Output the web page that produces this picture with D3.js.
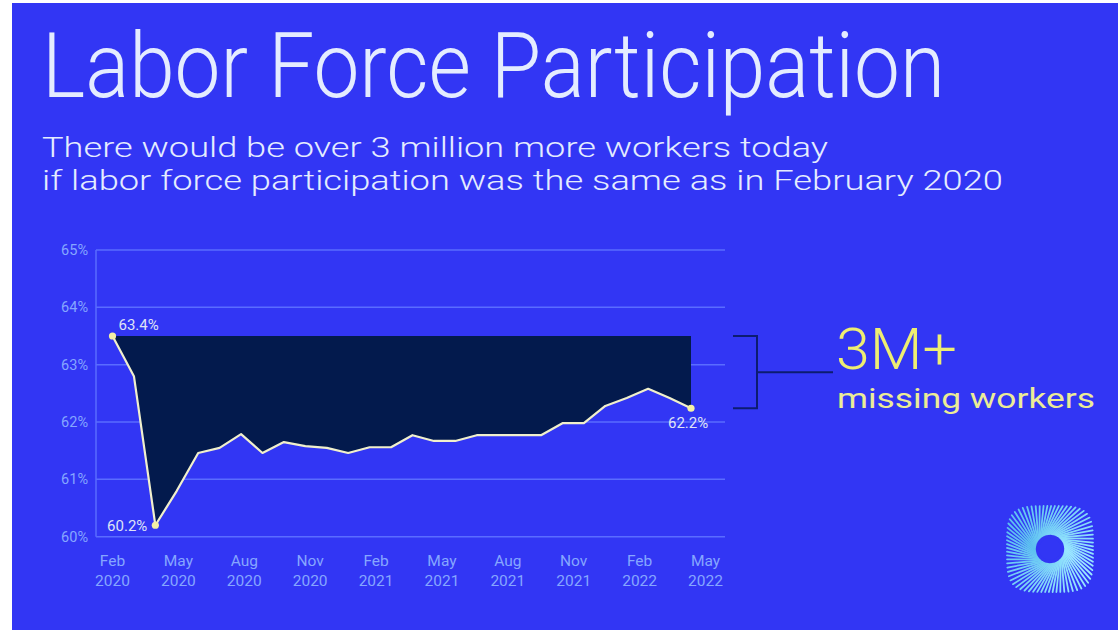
<!DOCTYPE html>
<html>
<head>
<meta charset="utf-8">
<script src="https://cdn.jsdelivr.net/npm/d3@7"></script>
<style>
  html, body { margin: 0; padding: 0; background: #ffffff; }
  svg { display: block; }
  text { font-family: Roboto, "Noto Sans", sans-serif; }
</style>
</head>
<body>
<svg id="chart" width="1118" height="630"></svg>
<script>
// ---------- data ----------
const months = [
  "Feb 2020","Mar 2020","Apr 2020","May 2020","Jun 2020","Jul 2020","Aug 2020","Sep 2020",
  "Oct 2020","Nov 2020","Dec 2020","Jan 2021","Feb 2021","Mar 2021","Apr 2021","May 2021",
  "Jun 2021","Jul 2021","Aug 2021","Sep 2021","Oct 2021","Nov 2021","Dec 2021","Jan 2022",
  "Feb 2022","Mar 2022","Apr 2022","May 2022"
];
const participation = [
  63.5, 62.8, 60.2, 60.8, 61.46, 61.55, 61.79, 61.46,
  61.65, 61.58, 61.55, 61.46, 61.56, 61.56, 61.77, 61.67,
  61.67, 61.77, 61.77, 61.77, 61.77, 61.98, 61.98, 62.28,
  62.42, 62.58, 62.42, 62.24
];
const baselineValue = 63.5;           // February 2020 level
const yTicks = [60, 61, 62, 63, 64, 65];
const xTickMonths = ["Feb","May","Aug","Nov","Feb","May","Aug","Nov","Feb","May"];
const xTickYears  = ["2020","2020","2020","2020","2021","2021","2021","2021","2022","2022"];
const pointLabels = [
  {index: 0,  text: "63.4%"},
  {index: 2,  text: "60.2%"},
  {index: 27, text: "62.2%"}
];
const titleText = "Labor Force Participation";
const subtitleLines = [
  "There would be over 3 million more workers today",
  "if labor force participation was the same as in February 2020"
];
const calloutBig = "3M+";
const calloutSmall = "missing workers";

// ---------- setup ----------
const svg = d3.select("#chart");
const W = 1118, H = 630;
const bg = "#3236f4";

svg.append("rect").attr("width", W).attr("height", H).attr("fill", "#ffffff");
svg.append("rect").attr("x", 12).attr("y", 3).attr("width", W - 12).attr("height", H - 3)
   .attr("fill", bg);

// titles
svg.append("text").attr("x", 42).attr("y", 97)
   .attr("font-size", 91).attr("font-weight", 300).attr("fill", "#e4ecff")
   .attr("textLength", 903).attr("lengthAdjust", "spacingAndGlyphs")
   .text(titleText);
const subLen = [786, 961];
subtitleLines.forEach((s, i) => {
  svg.append("text").attr("x", 42).attr("y", 157 + i * 33)
     .attr("font-size", 28).attr("font-weight", 300).attr("fill", "#e4ecff")
     .attr("textLength", subLen[i]).attr("lengthAdjust", "spacingAndGlyphs")
     .text(s);
});

// scales
const y = d3.scaleLinear().domain([60, 65]).range([536.7, 250]);
const x = d3.scalePoint().domain(months).range([112.5, 691]);
const xLab = d3.scalePoint().domain(d3.range(xTickMonths.length)).range([112.5, 705.5]);
const plotLeft = 96, plotRight = 725;

// grid
const gridColor = "#5a6cff";
svg.append("g").selectAll("line").data(yTicks).join("line")
   .attr("x1", plotLeft).attr("x2", plotRight)
   .attr("y1", d => y(d)).attr("y2", d => y(d))
   .attr("stroke", gridColor).attr("stroke-width", 1.5);
svg.append("line").attr("x1", plotLeft).attr("x2", plotLeft)
   .attr("y1", y(65)).attr("y2", y(60))
   .attr("stroke", gridColor).attr("stroke-width", 1.5);

// y tick labels
svg.append("g").selectAll("text").data(yTicks).join("text")
   .attr("x", 88).attr("y", d => y(d)).attr("dy", "0.35em")
   .attr("text-anchor", "end").attr("font-size", 14.5).attr("fill", "#86a6ff")
   .text(d => d + "%");

// x tick labels
const xl = svg.append("g").selectAll("text").data(xTickMonths).join("text")
   .attr("text-anchor", "middle").attr("font-size", 15.5).attr("fill", "#86a6ff");
xl.append("tspan").attr("x", (d, i) => xLab(i)).attr("y", 566).text(d => d);
xl.append("tspan").attr("x", (d, i) => xLab(i)).attr("y", 586).text((d, i) => xTickYears[i]);

// gap area
const data = months.map((m, i) => ({m, v: participation[i]}));
svg.append("path").datum(data)
   .attr("d", d3.area().x(d => x(d.m)).y0(y(baselineValue)).y1(d => y(d.v)))
   .attr("fill", "#031a4d");

// line
svg.append("path").datum(data)
   .attr("d", d3.line().x(d => x(d.m)).y(d => y(d.v)))
   .attr("fill", "none").attr("stroke", "#f1f0cc").attr("stroke-width", 2.2)
   .attr("stroke-linejoin", "round");

// dots + labels
svg.append("g").selectAll("circle").data(pointLabels).join("circle")
   .attr("cx", d => x(months[d.index])).attr("cy", d => y(participation[d.index]))
   .attr("r", 3.6).attr("fill", "#f4f0a6");
const lblPos = [
  {dx: 6, dy: -11, anchor: "start"},
  {dx: -8, dy: 1, anchor: "end"},
  {dx: -23, dy: 14, anchor: "start"}
];
svg.append("g").selectAll("text").data(pointLabels).join("text")
   .attr("x", (d, i) => x(months[d.index]) + lblPos[i].dx)
   .attr("y", (d, i) => y(participation[d.index]) + lblPos[i].dy)
   .attr("dy", "0.35em").attr("text-anchor", (d, i) => lblPos[i].anchor)
   .attr("font-size", 15).attr("fill", "#dfe3f6")
   .text(d => d.text);

// bracket
const bTop = y(baselineValue), bBot = y(participation[participation.length - 1]);
const bx = 757;
svg.append("path")
   .attr("d", `M${bx - 24},${bTop}H${bx}V${bBot}H${bx - 24}M${bx},${(bTop + bBot) / 2}H${833}`)
   .attr("fill", "none").attr("stroke", "#0c1c70").attr("stroke-width", 2);

// callout
svg.append("text").attr("x", 836).attr("y", 369)
   .attr("font-size", 57).attr("font-weight", 300).attr("fill", "#eeee72")
   .attr("textLength", 121).attr("lengthAdjust", "spacingAndGlyphs")
   .text(calloutBig);
svg.append("text").attr("x", 837).attr("y", 408)
   .attr("font-size", 27.5).attr("font-weight", 400).attr("fill", "#ecec96")
   .attr("textLength", 258).attr("lengthAdjust", "spacingAndGlyphs")
   .text(calloutSmall);

// logo (radial sunburst)
const lg = svg.append("g").attr("transform", "translate(1050,549)");
const nRays = 72;
const p = 4, R = 43;
const col = d3.scaleLinear().domain([0, 0.5, 1]).range(["#9be8ff", "#5cc0f0", "#9be8ff"]);
lg.selectAll("line").data(d3.range(nRays)).join("line")
  .each(function(i) {
    const t = i / nRays * 2 * Math.PI;
    const to = t + 0.55;
    const ro = R / Math.pow(Math.pow(Math.abs(Math.cos(to)), p) + Math.pow(Math.abs(Math.sin(to)), p), 1 / p);
    d3.select(this)
      .attr("x1", 15 * Math.cos(t)).attr("y1", 15 * Math.sin(t))
      .attr("x2", ro * Math.cos(to)).attr("y2", ro * Math.sin(to));
  })
  .attr("stroke", i => col(i / nRays)).attr("stroke-width", 1.8).attr("stroke-linecap", "round");
lg.append("circle").attr("r", 11).attr("fill", bg);
</script>
</body>
</html>
